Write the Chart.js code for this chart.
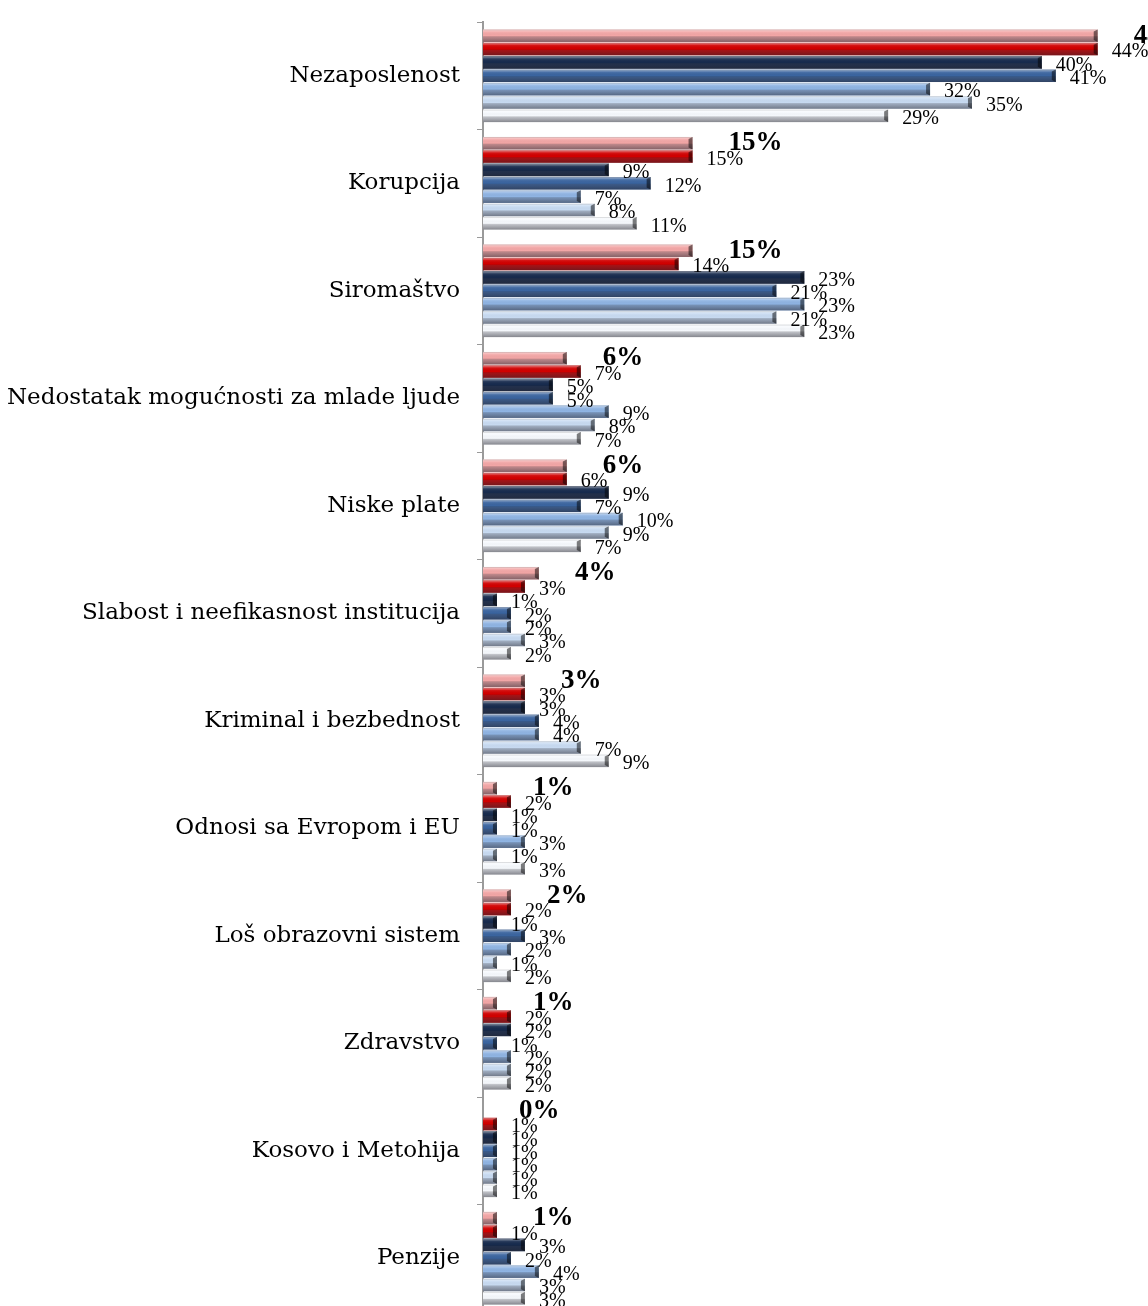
<!DOCTYPE html>
<html lang="sr">
<head>
<meta charset="utf-8">
<title>Najveći problemi</title>
<script src="https://cdn.jsdelivr.net/npm/chart.js@4.4.1/dist/chart.umd.min.js"></script>
<style>
  html, body { margin:0; padding:0; background:#fff; overflow:hidden; }
  canvas { display:block; }
</style>
</head>
<body>
<canvas id="grafik" width="1148" height="1312"></canvas>
<script>
// Podaci
const kategorije = [
  'Nezaposlenost', 'Korupcija', 'Siromaštvo', 'Nedostatak mogućnosti za mlade ljude',
  'Niske plate', 'Slabost i neefikasnost institucija', 'Kriminal i bezbednost',
  'Odnosi sa Evropom i EU', 'Loš obrazovni sistem', 'Zdravstvo', 'Kosovo i Metohija', 'Penzije'
];
const serija1 = [44, 15, 15, 6, 6, 4, 3, 1, 2, 1, 0, 1];
const serija2 = [44, 15, 14, 7, 6, 3, 3, 2, 2, 2, 1, 1];
const serija3 = [40, 9, 23, 5, 9, 1, 3, 1, 1, 2, 1, 3];
const serija4 = [41, 12, 21, 5, 7, 2, 4, 1, 3, 1, 1, 2];
const serija5 = [32, 7, 23, 9, 10, 2, 4, 3, 2, 2, 1, 4];
const serija6 = [35, 8, 21, 8, 9, 3, 7, 1, 1, 2, 1, 3];
const serija7 = [29, 11, 23, 7, 7, 2, 9, 3, 2, 2, 1, 3];

const serije = [serija1, serija2, serija3, serija4, serija5, serija6, serija7];
const boje = ['#f3a6a6', '#d20000', '#172b4e', '#3b65a0', '#8fb4e3', '#c8dbf2', '#f6f9fd'];

// 3D izgled stubića
const reljef = {
  id: 'reljef',
  afterDatasetsDraw(chart) {
    const ctx = chart.ctx;
    ctx.save();
    chart.data.datasets.forEach((ds, di) => {
      chart.getDatasetMeta(di).data.forEach(el => {
        const { x, y, base, height } = el.getProps(['x', 'y', 'base', 'height'], true);
        if (x - base < 0.5) return;
        const top = y - height / 2, h = height;
        const g = ctx.createLinearGradient(0, top, 0, top + h);
        g.addColorStop(0, 'rgba(255,255,255,0.55)');
        g.addColorStop(0.22, 'rgba(255,255,255,0.08)');
        g.addColorStop(0.5, 'rgba(0,0,0,0)');
        g.addColorStop(0.6, 'rgba(60,60,70,0.3)');
        g.addColorStop(1, 'rgba(40,40,50,0.55)');
        ctx.fillStyle = g;
        ctx.fillRect(base, top, x - base, h);
        ctx.strokeStyle = 'rgba(0,0,0,0.12)';
        ctx.lineWidth = 1;
        ctx.beginPath(); ctx.moveTo(base, top + 0.5); ctx.lineTo(x, top + 0.5); ctx.stroke();
        // kraj stubića
        ctx.fillStyle = 'rgba(0,0,0,0.5)';
        ctx.beginPath();
        ctx.moveTo(x - 4, top + 2); ctx.lineTo(x, top); ctx.lineTo(x, top + h); ctx.lineTo(x - 4, top + h - 2);
        ctx.closePath(); ctx.fill();
      });
    });
    ctx.restore();
  }
};

// Etikete sa procentima
const etikete = {
  id: 'etikete',
  afterDatasetsDraw(chart) {
    const ctx = chart.ctx;
    ctx.save();
    ctx.textBaseline = 'middle';
    ctx.textAlign = 'left';
    ctx.fillStyle = '#000';
    chart.data.datasets.forEach((ds, di) => {
      chart.getDatasetMeta(di).data.forEach((el, i) => {
        const t = Math.round(ds.data[i]) + '%';
        if (di === 0) {
          ctx.font = 'bold 27px "Liberation Serif"';
          ctx.fillText(t, el.x + 36, el.y);
        } else {
          ctx.font = '20px "Liberation Serif"';
          ctx.fillText(t, el.x + 14, el.y + 3);
        }
      });
    });
    ctx.restore();
  }
};

new Chart(document.getElementById('grafik'), {
  type: 'bar',
  data: {
    labels: kategorije,
    datasets: serije.map((s, i) => ({
      data: s,
      backgroundColor: boje[i],
      categoryPercentage: 0.87,
      barPercentage: 0.94
    }))
  },
  options: {
    indexAxis: 'y',
    responsive: false,
    animation: false,
    layout: { padding: { top: 22, right: 0, bottom: 0, left: 0 } },
    plugins: { legend: { display: false }, tooltip: { enabled: false } },
    scales: {
      x: { display: false, min: 0, max: 47.6 },
      y: {
        afterFit: s => { s.width = 483; s.paddingTop = 0; s.paddingBottom = 0; },
        border: { color: '#9a9a9a', width: 2 },
        grid: { drawOnChartArea: false, tickLength: 6, color: '#9a9a9a', offset: true },
        ticks: { color: '#000', padding: 17, font: { family: 'DejaVu Serif', size: 23 } }
      }
    }
  },
  plugins: [reljef, etikete]
});
</script>
</body>
</html>
